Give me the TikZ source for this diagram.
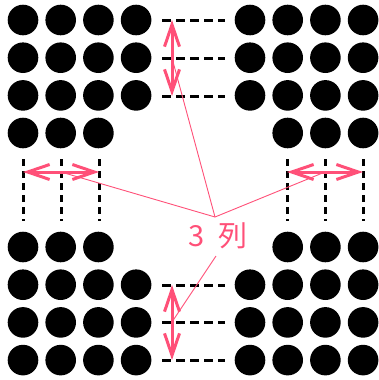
\documentclass[tikz,border=0pt]{standalone}
\usepackage{fontspec}
\newfontfamily\cjkfont{Noto Sans CJK JP}
\usetikzlibrary{arrows.meta}
\definecolor{pinkline}{RGB}{255,80,120}
\tikzset{
    % Dots
    dot/.style={fill=black, draw=none},
    % Guide lines
    hguide/.style={line width=3pt, dash pattern=on 9pt off 5pt},
    vguide/.style={line width=3pt, dash pattern=on 7pt off 5pt},
    % Arrows
    spanarrow/.style={
        {Straight Barb[length=22pt,width=15pt]}-{Straight Barb[length=22pt,width=15pt]},
        line width=3pt,
        draw=pinkline
    },
    pointer/.style={line width=0.9pt, draw=pinkline},
    % Labels
    countlabel/.style={font=\cjkfont\fontsize{29}{34}\selectfont, text=pinkline, inner sep=0pt}
}

\begin{document}
\begin{tikzpicture}[x=1pt, y=-1pt]

    \useasboundingbox (0,0) rectangle (378,380);

    % Top left block
    \foreach \r in {0,1,2} {
        \foreach \c in {0,...,3} {
            \fill[dot] (23+37.7*\c, 20+37.7*\r) circle (15.3);
        }
    }
    \foreach \c in {0,1,2} {
        \fill[dot] (23+37.7*\c, 133) circle (15.3);
    }

    % Top right block
    \foreach \r in {0,1,2} {
        \foreach \c in {0,...,3} {
            \fill[dot] (250+37.7*\c, 20+37.7*\r) circle (15.3);
        }
    }
    \foreach \c in {1,2,3} {
        \fill[dot] (250+37.7*\c, 133) circle (15.3);
    }

    % Bottom left block
    \foreach \c in {0,1,2} {
        \fill[dot] (23+37.7*\c, 247) circle (15.3);
    }
    \foreach \r in {1,2,3} {
        \foreach \c in {0,...,3} {
            \fill[dot] (23+37.7*\c, 247+37.7*\r) circle (15.3);
        }
    }

    % Bottom right block
    \foreach \c in {1,2,3} {
        \fill[dot] (250+37.7*\c, 247) circle (15.3);
    }
    \foreach \r in {1,2,3} {
        \foreach \c in {0,...,3} {
            \fill[dot] (250+37.7*\c, 247+37.7*\r) circle (15.3);
        }
    }

    % Row guides
    \foreach \y in {20,58,96,285,322,360} {
        \draw[hguide] (162,\y) -- (225,\y);
    }

    % Column guides
    \foreach \x in {23,61,99,287,325,363} {
        \draw[vguide] (\x,159) -- (\x,221);
    }

    % Arrow ends
    \coordinate (topA) at (172,20);
    \coordinate (topM) at (172,58);
    \coordinate (topB) at (172,96);
    \coordinate (botA) at (172,285);
    \coordinate (botM) at (172,322);
    \coordinate (botB) at (172,360);
    \coordinate (leftA) at (23,172);
    \coordinate (leftM) at (61,172);
    \coordinate (leftB) at (99,172);
    \coordinate (rightA) at (287,172);
    \coordinate (rightM) at (325,172);
    \coordinate (rightB) at (363,172);

    % Span arrows
    \draw[spanarrow] (topA) -- (topB);
    \draw[spanarrow] (botA) -- (botB);
    \draw[spanarrow] (leftA) -- (leftB);
    \draw[spanarrow] (rightA) -- (rightB);

    % Label
    \node[countlabel] (count) at (218,236) {3\hspace{14pt}列};
    \coordinate (hub) at (215,217);
    \coordinate (foot) at (216,256);

    % Pointers
    \draw[pointer] (hub) -- (topM);
    \draw[pointer] (hub) -- (leftM);
    \draw[pointer] (hub) -- (rightM);
    \draw[pointer] (foot) -- (botM);

\end{tikzpicture}
\end{document}
